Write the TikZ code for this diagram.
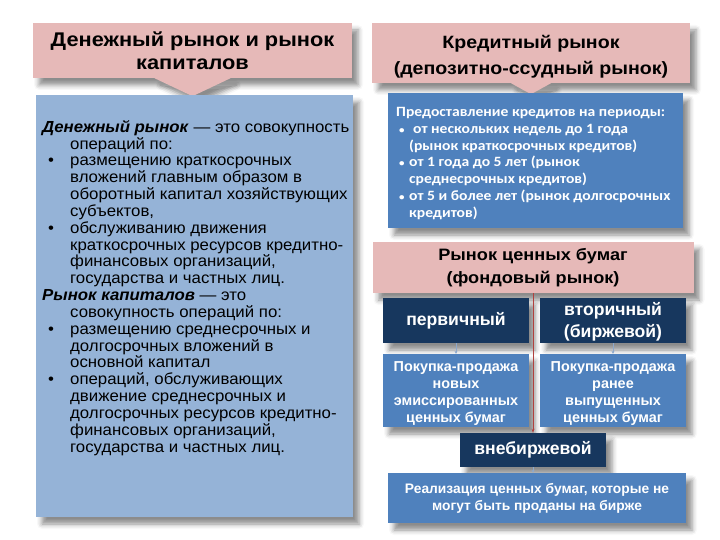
\documentclass[tikz,border=0pt]{standalone}
\usepackage{fontspec}
\setmainfont{Liberation Sans}
\newfontfamily\widesans[FakeStretch=1.1]{Liberation Sans}
\newfontfamily\bodysans[FakeStretch=1.05]{Liberation Sans}
\newfontfamily\calib[FakeStretch=1.1]{Carlito}
\usetikzlibrary{shadows.blur,calc,arrows.meta}
\definecolor{pinkfill}{HTML}{E6B9B8}
\definecolor{lightblue}{HTML}{95B3D7}
\definecolor{midblue}{HTML}{4F81BD}
\definecolor{navy}{HTML}{17375E}
\definecolor{redline}{HTML}{B0413E}
\definecolor{thinarrow}{HTML}{8EA9CC}
\tikzset{
  shad/.style={blur shadow={shadow xshift=6pt, shadow yshift=-7pt, shadow blur radius=5pt, shadow opacity=45}},
  pinkbox/.style={shad, fill=pinkfill, draw=none, align=center, inner sep=0pt},
  lbluebox/.style={shad, fill=lightblue, draw=none, inner sep=0pt},
  bluebox/.style={shad, fill=midblue, draw=none, align=center, inner sep=0pt, text=white, font=\bfseries},
  navybox/.style={shad, fill=navy, draw=none, align=center, inner sep=0pt, text=white, font=\fontsize{17.6}{22}\selectfont\bfseries},
  boxlabel/.style={align=center, text=white, inner sep=0pt},
  chevron/.style={fill=pinkfill, draw=none, shad},
  smallarrow/.style={draw=thinarrow, line width=0.6pt, -{Stealth[length=3pt,width=3pt]}},
  redarrow/.style={draw=redline, line width=0.9pt, -{Stealth[length=4pt,width=3pt]}}
}
\newcommand{\lbul}{\makebox[28pt][l]{\hspace{6pt}•}}
\newcommand{\lind}{\hspace*{28pt}}
\newcommand{\rbul}{\makebox[13pt][l]{\hspace{3pt}{\fontsize{10}{10}\selectfont•}}}
\newcommand{\rind}{\hspace*{13pt}}
\begin{document}
\begin{tikzpicture}[x=1pt,y=-1pt]
\useasboundingbox (0,0) rectangle (720,540);
% left column
\node[pinkbox, minimum width=319pt, minimum height=55pt, font=\widesans\fontsize{19.8}{23}\selectfont\bfseries] (ltitle) at (192.5,50.5) {Денежный рынок и рынок\\капиталов};
\fill[chevron] ($(ltitle.south)+(-38,0)$) -- ($(ltitle.south)+(38,0)$) -- ($(ltitle.south)+(0,18)$) -- cycle;
\node[lbluebox, minimum width=317pt, minimum height=422pt] (lbox) at (194.5,306) {};
\node[anchor=north west, align=left, inner sep=0pt, font=\bodysans\fontsize{16}{16.84}\selectfont] (ltext) at (42,120) {%
\textbf{\textit{Денежный рынок}} — это совокупность\\
\lind операций по:\\
\lbul размещению краткосрочных\\
\lind вложений главным образом в\\
\lind оборотный капитал хозяйствующих\\
\lind субъектов,\\
\lbul обслуживанию движения\\
\lind краткосрочных ресурсов кредитно-\\
\lind финансовых организаций,\\
\lind государства и частных лиц.\\
\textbf{\textit{Рынок капиталов}} — это\\
\lind совокупность операций по:\\
\lbul размещению среднесрочных и\\
\lind долгосрочных вложений в\\
\lind основной капитал\\
\lbul операций, обслуживающих\\
\lind движение среднесрочных и\\
\lind долгосрочных ресурсов кредитно-\\
\lind финансовых организаций,\\
\lind государства и частных лиц.};
% right column top
\node[pinkbox, minimum width=318pt, minimum height=60pt,
  label={[boxlabel, text=black, yshift=-4pt, font=\widesans\fontsize{17.8}{26}\selectfont\bfseries]center:Кредитный рынок\\(депозитно-ссудный рынок)}] (rtitle) at (531,53) {};
\fill[chevron] ($(rtitle.south)+(-20,0)$) -- ($(rtitle.south)+(20,0)$) -- ($(rtitle.south)+(0,11)$) -- cycle;
\node[bluebox, minimum width=295pt, minimum height=135pt] (rbox) at (535.5,160.5) {};
\node[anchor=north west, align=left, inner sep=0pt, text=white, font=\calib\fontsize{14.2}{16.8}\selectfont\bfseries] (rtext) at (396,107) {%
Предоставление кредитов на периоды:\\
\rbul\hspace{4pt}от нескольких недель до 1 года\\
\rind(рынок краткосрочных кредитов)\\
\rbul от 1 года до 5 лет (рынок\\
\rind среднесрочных кредитов)\\
\rbul от 5 и более лет (рынок долгосрочных\\
\rind кредитов)};
% securities market
\node[pinkbox, minimum width=321pt, minimum height=51pt, font=\widesans\fontsize{16.5}{23}\selectfont\bfseries] (sec) at (533,267.5) {Рынок ценных бумаг\\(фондовый рынок)};
\node[navybox, minimum width=146pt, minimum height=45pt] (perv) at (456,320.5) {первичный};
\node[navybox, minimum width=146pt, minimum height=45pt,
  label={[boxlabel, yshift=-1.5pt, font=\fontsize{17.6}{22}\selectfont\bfseries]center:вторичный\\(биржевой)}] (vtor) at (613,320.5) {};
\node[bluebox, minimum width=146pt, minimum height=73pt,
  label={[boxlabel, yshift=-3pt, font=\fontsize{14.4}{16.7}\selectfont\bfseries]center:Покупка-продажа\\новых\\эмиссированных\\ценных бумаг}] (pok1) at (456,390.5) {};
\node[bluebox, minimum width=146pt, minimum height=73pt,
  label={[boxlabel, yshift=-3pt, font=\fontsize{14.4}{16.7}\selectfont\bfseries]center:Покупка-продажа\\ранее\\выпущенных\\ценных бумаг}] (pok2) at (613,390.5) {};
\node[navybox, minimum width=146pt, minimum height=34pt] (vneb) at (533,450) {внебиржевой};
\node[bluebox, minimum width=298pt, minimum height=50pt, font=\fontsize{13.8}{17}\selectfont\bfseries] (real) at (537,498) {Реализация ценных бумаг, которые не\\могут быть проданы на бирже};
% connectors
\draw[smallarrow] (perv.south) -- (pok1.north);
\draw[smallarrow] (vtor.south) -- (pok2.north);
\draw[smallarrow] (vneb.south) -- (vneb.south |- real.north);
\draw[redarrow] (sec.south) -- (vneb.north);
\end{tikzpicture}
\end{document}
